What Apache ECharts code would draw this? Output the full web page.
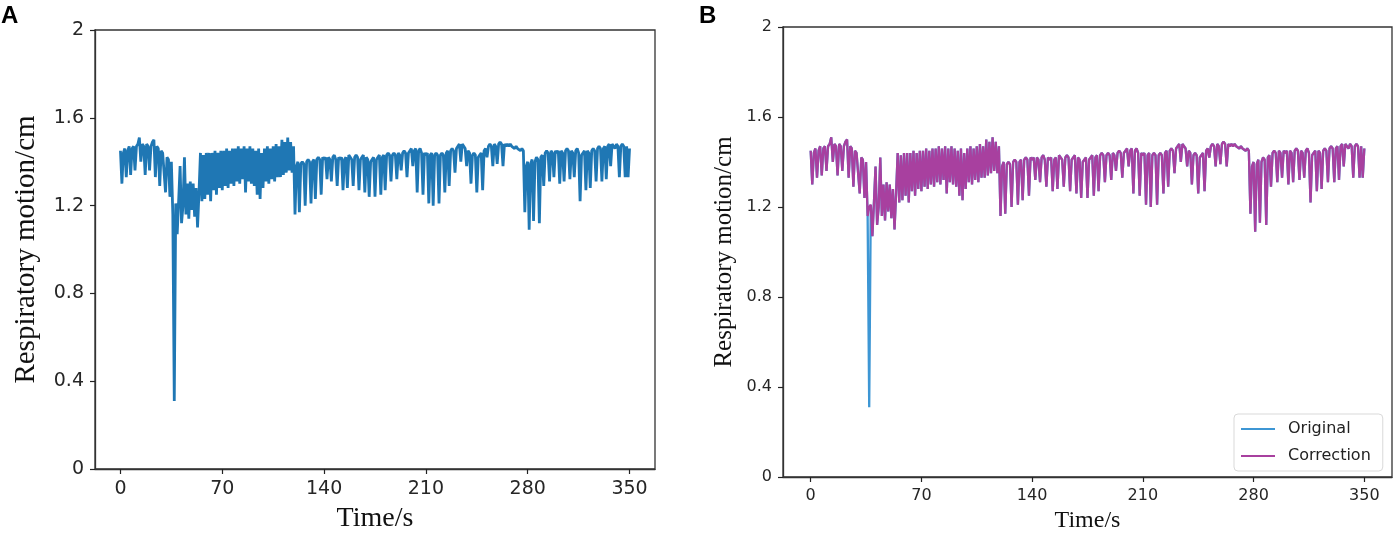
<!DOCTYPE html>
<html>
<head>
<meta charset="utf-8">
<title>Respiratory motion</title>
<script src="https://cdn.jsdelivr.net/npm/echarts@6/dist/echarts.min.js"></script>
<style>
  html, body { margin: 0; padding: 0; background: #fff; }
  #chart { width: 1394px; height: 538px; }
</style>
</head>
<body>
<div id="chart"></div>
<script>
// one sample per second, t = 0 .. 350 s
var sampleStep = 1;
var motionOriginal = [
  1.45, 1.30, 1.44, 1.46, 1.33, 1.45, 1.47, 1.34, 1.46, 1.47,
  1.36, 1.47, 1.48, 1.51, 1.40, 1.48, 1.47, 1.34, 1.48, 1.47,
  1.36, 1.47, 1.49, 1.50, 1.33, 1.47, 1.46, 1.29, 1.45, 1.44,
  1.44, 1.26, 1.42, 1.41, 1.24, 1.40, 1.16, 0.31, 1.21, 1.07,
  1.22, 1.38, 1.12, 1.20, 1.42, 1.16, 1.30, 1.14, 1.31, 1.18,
  1.30, 1.15, 1.28, 1.10, 1.26, 1.44, 1.22, 1.43, 1.23, 1.44,
  1.25, 1.44, 1.22, 1.44, 1.27, 1.45, 1.25, 1.44, 1.28, 1.45,
  1.27, 1.45, 1.29, 1.46, 1.28, 1.45, 1.30, 1.46, 1.29, 1.46,
  1.31, 1.47, 1.30, 1.46, 1.32, 1.47, 1.26, 1.46, 1.31, 1.47,
  1.30, 1.46, 1.29, 1.45, 1.25, 1.46, 1.23, 1.44, 1.28, 1.46,
  1.31, 1.47, 1.30, 1.46, 1.32, 1.47, 1.31, 1.48, 1.33, 1.47,
  1.33, 1.50, 1.34, 1.49, 1.35, 1.51, 1.36, 1.49, 1.35, 1.47,
  1.16, 1.38, 1.40, 1.17, 1.39, 1.40, 1.39, 1.20, 1.40, 1.41,
  1.40, 1.21, 1.40, 1.41, 1.23, 1.41, 1.42, 1.41, 1.25, 1.42,
  1.41, 1.42, 1.32, 1.42, 1.41, 1.31, 1.42, 1.43, 1.41, 1.29,
  1.42, 1.41, 1.42, 1.27, 1.41, 1.42, 1.28, 1.43, 1.42, 1.41,
  1.29, 1.42, 1.43, 1.42, 1.27, 1.41, 1.42, 1.43, 1.26, 1.42,
  1.41, 1.24, 1.40, 1.41, 1.42, 1.24, 1.41, 1.42, 1.43, 1.25,
  1.42, 1.43, 1.27, 1.43, 1.44, 1.43, 1.31, 1.43, 1.44, 1.43,
  1.32, 1.44, 1.43, 1.36, 1.44, 1.45, 1.44, 1.33, 1.44, 1.45,
  1.46, 1.38, 1.45, 1.46, 1.26, 1.45, 1.46, 1.44, 1.25, 1.44,
  1.43, 1.44, 1.21, 1.43, 1.44, 1.20, 1.43, 1.44, 1.43, 1.21,
  1.43, 1.44, 1.43, 1.26, 1.44, 1.45, 1.29, 1.45, 1.46, 1.45,
  1.35, 1.46, 1.47, 1.48, 1.40, 1.48, 1.47, 1.46, 1.38, 1.45,
  1.44, 1.30, 1.43, 1.44, 1.43, 1.26, 1.42, 1.43, 1.44, 1.27,
  1.45, 1.46, 1.42, 1.47, 1.48, 1.47, 1.38, 1.48, 1.47, 1.39,
  1.48, 1.49, 1.48, 1.38, 1.48, 1.47, 1.48, 1.47, 1.48, 1.47,
  1.47, 1.46, 1.47, 1.46, 1.46, 1.45, 1.46, 1.45, 1.17, 1.38,
  1.40, 1.09, 1.39, 1.41, 1.13, 1.40, 1.42, 1.41, 1.12, 1.42,
  1.43, 1.29, 1.44, 1.45, 1.44, 1.31, 1.45, 1.44, 1.33, 1.45,
  1.44, 1.45, 1.30, 1.45, 1.44, 1.31, 1.45, 1.46, 1.45, 1.32,
  1.45, 1.44, 1.33, 1.45, 1.46, 1.44, 1.22, 1.43, 1.44, 1.45,
  1.27, 1.45, 1.44, 1.28, 1.45, 1.46, 1.45, 1.31, 1.46, 1.47,
  1.46, 1.31, 1.46, 1.47, 1.32, 1.47, 1.48, 1.38, 1.48, 1.47,
  1.46, 1.48, 1.47, 1.33, 1.47, 1.48, 1.47, 1.33, 1.47, 1.33,
  1.46
];
// the outlier at t = 37 s is replaced in the corrected trace
var spikeIndex = 37;
var spikeCorrected = 1.20;

var xTicks = [0, 70, 140, 210, 280, 350];
var legendNames = ['Original', 'Correction'];

var toPairs = function (arr) {
  return arr.map(function (v, i) { return [i * sampleStep, v]; });
};
var originalData = toPairs(motionOriginal);
var correctionData = toPairs(motionOriginal);
correctionData[spikeIndex] = [spikeIndex * sampleStep, spikeCorrected];

function xAxisFor(gridIndex, labelSize, nameSize, nameGap) {
  return {
    gridIndex: gridIndex,
    type: 'value',
    min: -17.5,
    max: 367.5,
    name: 'Time/s',
    nameLocation: 'middle',
    nameGap: nameGap,
    nameTextStyle: { fontFamily: 'Liberation Serif', fontSize: nameSize, color: '#111' },
    axisLine: { show: true, onZero: false, lineStyle: { color: '#333', width: 1.3 } },
    axisTick: { show: true, customValues: xTicks, length: 5, lineStyle: { color: '#222', width: 1.2 } },
    axisLabel: { customValues: xTicks, margin: 11, fontFamily: 'DejaVu Sans', fontSize: labelSize, color: '#262626' },
    splitLine: { show: false }
  };
}

function yAxisFor(gridIndex, labelSize, nameSize, nameGap) {
  return {
    gridIndex: gridIndex,
    type: 'value',
    min: 0,
    max: 2,
    interval: 0.4,
    name: 'Respiratory motion/cm',
    nameLocation: 'middle',
    nameRotate: 90,
    nameGap: nameGap,
    nameTextStyle: { fontFamily: 'Liberation Serif', fontSize: nameSize, color: '#111' },
    axisLine: { show: true, onZero: false, lineStyle: { color: '#333', width: 1.3 } },
    axisTick: { show: true, length: 5, lineStyle: { color: '#222', width: 1.2 } },
    axisLabel: { margin: 11, fontFamily: 'DejaVu Sans', fontSize: labelSize, color: '#262626' },
    splitLine: { show: false }
  };
}

var myChart = echarts.init(document.getElementById('chart'), null, { renderer: 'canvas' });

var option = {
  animation: false,
  backgroundColor: '#fff',
  graphic: [
    { type: 'text', left: 1, top: 4, style: { text: 'A', font: 'bold 24px "Liberation Sans"', fill: '#000' } },
    { type: 'text', left: 699, top: 4, style: { text: 'B', font: 'bold 24px "Liberation Sans"', fill: '#000' } }
  ],
  grid: [
    { left: 95, top: 30, width: 560, height: 445, show: true, borderColor: '#333', borderWidth: 1.3, backgroundColor: 'transparent' },
    { left: 783, top: 27, width: 609, height: 453, show: true, borderColor: '#333', borderWidth: 1.3, backgroundColor: 'transparent' }
  ],
  xAxis: [
    xAxisFor(0, 19, 28, 36),
    xAxisFor(1, 16, 24, 32)
  ],
  yAxis: [
    yAxisFor(0, 19, 29, 54),
    yAxisFor(1, 16, 25, 46)
  ],
  legend: {
    data: legendNames,
    orient: 'vertical',
    left: 1234,
    top: 414,
    padding: [6, 12, 6, 7],
    itemGap: 9,
    itemWidth: 34,
    itemHeight: 2,
    icon: 'rect',
    backgroundColor: '#fff',
    borderColor: '#d9d9d9',
    borderWidth: 1,
    borderRadius: 4,
    textStyle: { fontFamily: 'DejaVu Sans', fontSize: 16, color: '#222', lineHeight: 18, padding: [0, 0, 0, 8] }
  },
  series: [
    {
      name: 'Original A',
      type: 'line',
      xAxisIndex: 0,
      yAxisIndex: 0,
      data: originalData,
      symbol: 'none',
      lineStyle: { color: '#1f77b4', width: 2.8 },
      itemStyle: { color: '#1f77b4' }
    },
    {
      name: legendNames[0],
      type: 'line',
      xAxisIndex: 1,
      yAxisIndex: 1,
      data: originalData,
      symbol: 'none',
      lineStyle: { color: '#3d96d4', width: 2.3 },
      itemStyle: { color: '#3d96d4' }
    },
    {
      name: legendNames[1],
      type: 'line',
      xAxisIndex: 1,
      yAxisIndex: 1,
      data: correctionData,
      symbol: 'none',
      lineStyle: { color: '#a8409f', width: 2.3 },
      itemStyle: { color: '#a8409f' }
    }
  ]
};
myChart.setOption(option);
</script>
</body>
</html>
